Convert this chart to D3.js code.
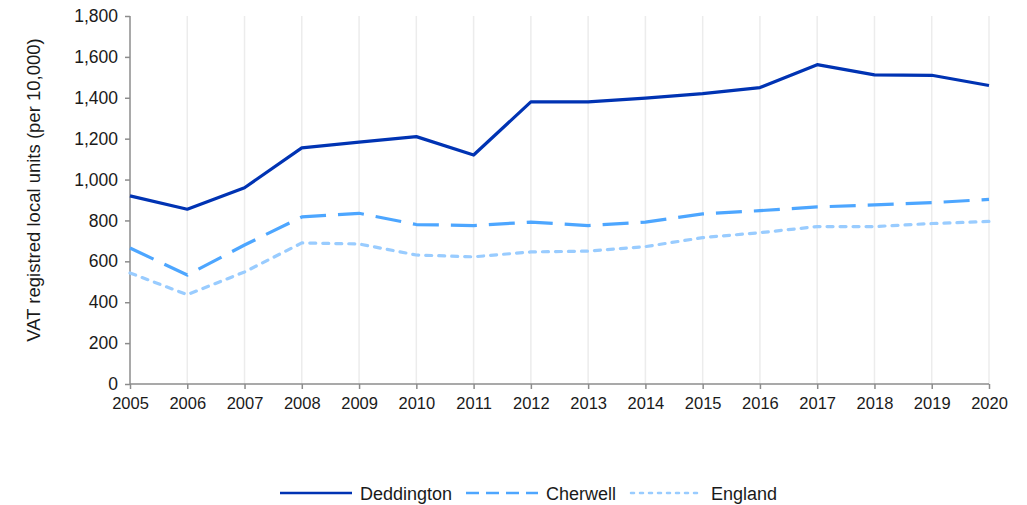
<!DOCTYPE html>
<html><head><meta charset="utf-8">
<script src="https://cdn.jsdelivr.net/npm/d3@7"></script>
<style>body{margin:0;background:#fff}svg{display:block}text{font-family:"Liberation Sans",Arial,sans-serif;fill:#1a1a1a}</style>
</head><body><svg id="c" width="1027" height="505"></svg>
<script>
const years = [2005,2006,2007,2008,2009,2010,2011,2012,2013,2014,2015,2016,2017,2018,2019,2020];
const deddington = [920,855,960,1155,1183,1210,1120,1380,1380,1398,1420,1450,1562,1512,1510,1460];
const cherwell = [665,533,680,817,835,780,775,792,775,792,832,848,866,876,887,903];
const england = [543,437,548,690,685,631,622,646,650,672,716,740,770,770,785,795];
const yTicks = [0,200,400,600,800,1000,1200,1400,1600,1800];
const seriesNames = ["Deddington","Cherwell","England"];
const colors = ["#0033b3","#4da6ff","#99ccff"];
const dashes = [null,"26,12","6,7"];
const legendDashes = [null,"13,7","3,6"];
const yTitle = "VAT registred local units (per 10,000)";

const svg = d3.select("#c");
const x = d3.scalePoint().domain(years).range([130,989]);
const y = d3.scaleLinear().domain([0,1800]).range([384,16]);

svg.append("g").selectAll("line").data(years.slice(1)).join("line")
  .attr("x1",d=>x(d)).attr("x2",d=>x(d)).attr("y1",16).attr("y2",384)
  .attr("stroke","#ececec").attr("stroke-width",1.5);

const fmt = d3.format(",");
const ya = svg.append("g").attr("transform","translate(130,0)")
  .call(d3.axisLeft(y).tickValues(yTicks).tickFormat(fmt).tickSize(5).tickPadding(7));
ya.select(".domain").attr("stroke","#8c8c8c").attr("stroke-width",1.5).attr("d","M0,16V384");
ya.selectAll(".tick line").attr("stroke","#8c8c8c").attr("stroke-width",1.5);
ya.selectAll("text").style("font-size","17.5px").attr("fill","#1a1a1a").style("font-family","Liberation Sans, Arial, sans-serif");

const xa = svg.append("g").attr("transform","translate(0,384)")
  .call(d3.axisBottom(x).tickFormat(d=>d).tickSize(5).tickPadding(8));
xa.select(".domain").attr("stroke","#8c8c8c").attr("stroke-width",1.5).attr("d","M130,0H989");
xa.selectAll(".tick line").attr("stroke","#8c8c8c").attr("stroke-width",1.5);
xa.selectAll("text").style("font-size","16.5px").attr("fill","#1a1a1a").style("font-family","Liberation Sans, Arial, sans-serif");

svg.append("text").attr("transform","translate(40,190) rotate(-90)")
  .attr("text-anchor","middle").style("font-size","18.5px").text(yTitle);

const data = [deddington,cherwell,england];
const line = d3.line().x((d,i)=>x(years[i])).y(d=>y(d));
[2,1,0].forEach(i=>{
  svg.append("path").datum(data[i]).attr("d",line).attr("fill","none")
    .attr("stroke",colors[i]).attr("stroke-width",3.2)
    .attr("stroke-linejoin","round")
    .attr("stroke-linecap", i===2?"round":"butt")
    .attr("stroke-dasharray",dashes[i]);
});

const lx = [280,466,631];
seriesNames.forEach((n,i)=>{
  const g = svg.append("g");
  g.append("line").attr("x1",lx[i]).attr("x2",lx[i]+72).attr("y1",493).attr("y2",493)
    .attr("stroke",colors[i]).attr("stroke-width",2.5)
    .attr("stroke-linecap", i===2?"round":"butt")
    .attr("stroke-dasharray",legendDashes[i]);
  g.append("text").attr("x",lx[i]+80).attr("y",499.5).style("font-size","18px").text(n);
});
</script></body></html>
